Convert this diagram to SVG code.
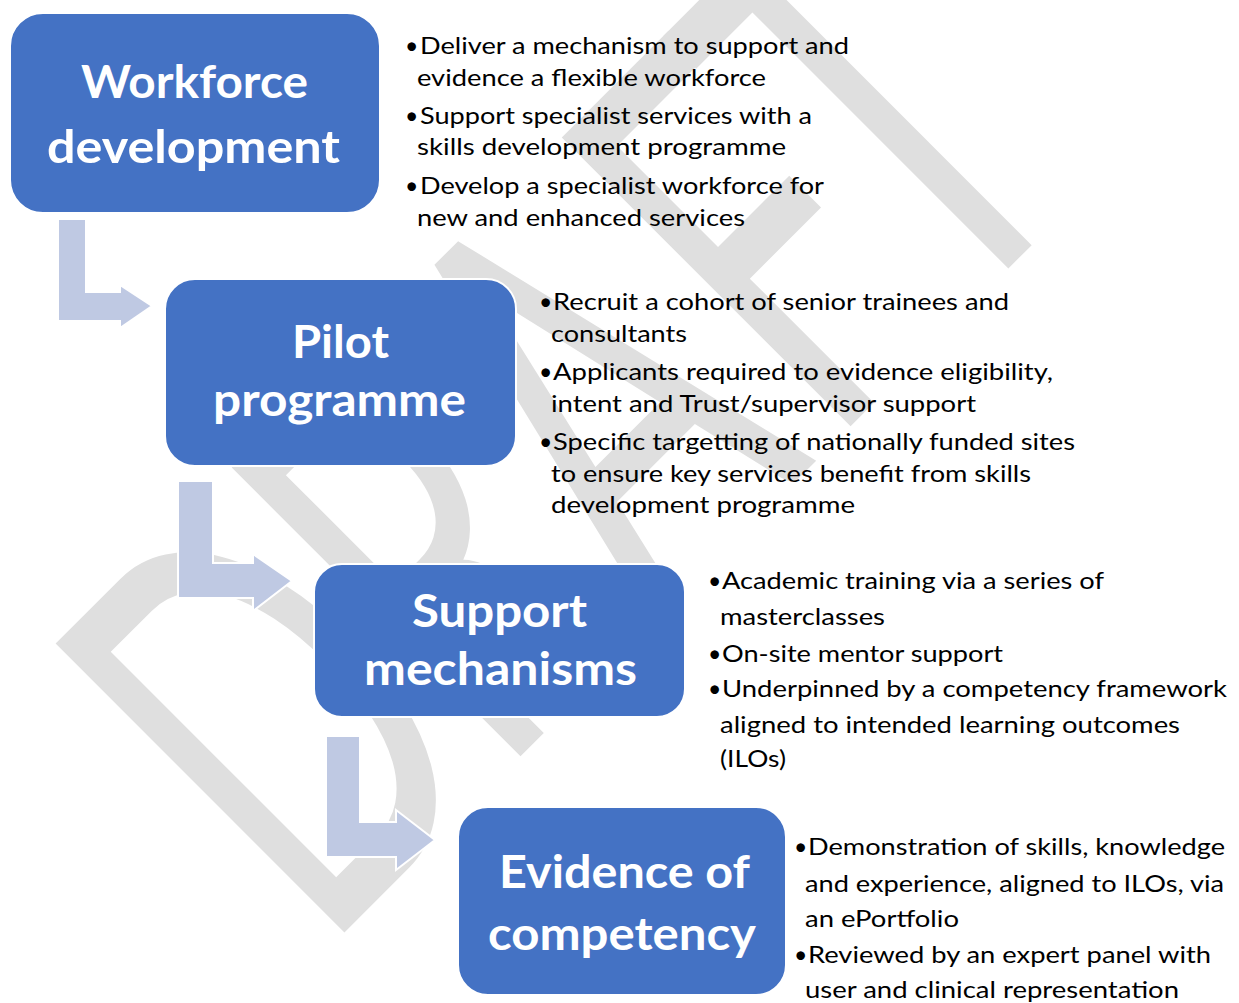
<svg xmlns="http://www.w3.org/2000/svg" width="1239" height="1003" viewBox="0 0 1239 1003">
<style>
.box{fill:#4472C4;stroke:#ffffff;stroke-width:2}
.title{font-family:Lato,"Open Sans",sans-serif;font-weight:700;font-size:46px;fill:#ffffff}
.body{font-family:Lato,"Open Sans",sans-serif;font-size:23px;fill:#000000}
.arrow{fill:#BFC9E3;stroke:#ffffff;stroke-width:2}
.wm{font-family:Lato,"Open Sans",sans-serif;font-weight:400;font-size:570px;fill:#dfdfdf}
</style>
<rect width="1239" height="1003" fill="#ffffff"/>
<g id="watermark">
<text class="wm" transform="translate(54,643) rotate(-45) scale(0.6,1)" x="-51 364 729 1142 1425" y="410">DRAFT</text>
</g>
<g id="connectors">
<polygon class="arrow" points="58,219 86,219 86,292 120,292 120,285 152,306 120,328 120,321 58,321"/>
<polygon class="arrow" points="178,481 213,481 213,563 253,563 253,554 292,581 253,611 253,598 178,598"/>
<polygon class="arrow" points="326,736 360,736 360,822 396,822 396,810 435,840 396,870 396,857 326,857"/>
</g>
<g id="node-workforce">
<rect class="box" x="10" y="13" width="370" height="200" rx="33"/>
<text class="title" x="81" y="98" textLength="227" lengthAdjust="spacingAndGlyphs">Workforce</text>
<text class="title" x="47" y="163" textLength="293" lengthAdjust="spacingAndGlyphs">development</text>
</g>
<g id="node-pilot">
<rect class="box" x="165" y="279" width="351" height="187" rx="30"/>
<text class="title" x="292" y="358" textLength="97" lengthAdjust="spacingAndGlyphs">Pilot</text>
<text class="title" x="213" y="416" textLength="253" lengthAdjust="spacingAndGlyphs">programme</text>
</g>
<g id="node-support">
<rect class="box" x="314" y="564" width="371" height="153" rx="28"/>
<text class="title" x="412" y="627" textLength="175" lengthAdjust="spacingAndGlyphs">Support</text>
<text class="title" x="364" y="685" textLength="273" lengthAdjust="spacingAndGlyphs">mechanisms</text>
</g>
<g id="node-evidence">
<rect class="box" x="458" y="807" width="328" height="188" rx="30"/>
<text class="title" x="499" y="888" textLength="251" lengthAdjust="spacingAndGlyphs">Evidence of</text>
<text class="title" x="488" y="950" textLength="268" lengthAdjust="spacingAndGlyphs">competency</text>
</g>
<g id="notes-workforce" class="body">
<text x="405" y="54">•</text><text x="420" y="54" textLength="429" lengthAdjust="spacingAndGlyphs">Deliver a mechanism to support and</text>
<text x="417" y="86" textLength="349" lengthAdjust="spacingAndGlyphs">evidence a flexible workforce</text>
<text x="405" y="124">•</text><text x="420" y="124" textLength="392" lengthAdjust="spacingAndGlyphs">Support specialist services with a</text>
<text x="417" y="155" textLength="369" lengthAdjust="spacingAndGlyphs">skills development programme</text>
<text x="405" y="194">•</text><text x="420" y="194" textLength="404" lengthAdjust="spacingAndGlyphs">Develop a specialist workforce for</text>
<text x="417" y="226" textLength="328" lengthAdjust="spacingAndGlyphs">new and enhanced services</text>
</g>
<g id="notes-pilot" class="body">
<text x="539" y="310">•</text><text x="553" y="310" textLength="456" lengthAdjust="spacingAndGlyphs">Recruit a cohort of senior trainees and</text>
<text x="551" y="342" textLength="136" lengthAdjust="spacingAndGlyphs">consultants</text>
<text x="539" y="380">•</text><text x="553" y="380" textLength="500" lengthAdjust="spacingAndGlyphs">Applicants required to evidence eligibility,</text>
<text x="551" y="412" textLength="425" lengthAdjust="spacingAndGlyphs">intent and Trust/supervisor support</text>
<text x="539" y="450">•</text><text x="553" y="450" textLength="522" lengthAdjust="spacingAndGlyphs">Specific targetting of nationally funded sites</text>
<text x="551" y="482" textLength="480" lengthAdjust="spacingAndGlyphs">to ensure key services benefit from skills</text>
<text x="551" y="513" textLength="304" lengthAdjust="spacingAndGlyphs">development programme</text>
</g>
<g id="notes-support" class="body">
<text x="708" y="589">•</text><text x="722" y="589" textLength="382" lengthAdjust="spacingAndGlyphs">Academic training via a series of</text>
<text x="720" y="625" textLength="165" lengthAdjust="spacingAndGlyphs">masterclasses</text>
<text x="708" y="662">•</text><text x="722" y="662" textLength="281" lengthAdjust="spacingAndGlyphs">On-site mentor support</text>
<text x="708" y="697">•</text><text x="722" y="697" textLength="505" lengthAdjust="spacingAndGlyphs">Underpinned by a competency framework</text>
<text x="720" y="733" textLength="460" lengthAdjust="spacingAndGlyphs">aligned to intended learning outcomes</text>
<text x="720" y="767" textLength="66" lengthAdjust="spacingAndGlyphs">(ILOs)</text>
</g>
<g id="notes-evidence" class="body">
<text x="794" y="855">•</text><text x="808" y="855" textLength="417" lengthAdjust="spacingAndGlyphs">Demonstration of skills, knowledge</text>
<text x="805" y="892" textLength="419" lengthAdjust="spacingAndGlyphs">and experience, aligned to ILOs, via</text>
<text x="805" y="927" textLength="154" lengthAdjust="spacingAndGlyphs">an ePortfolio</text>
<text x="794" y="963">•</text><text x="808" y="963" textLength="403" lengthAdjust="spacingAndGlyphs">Reviewed by an expert panel with</text>
<text x="805" y="998" textLength="374" lengthAdjust="spacingAndGlyphs">user and clinical representation</text>
</g>
</svg>
